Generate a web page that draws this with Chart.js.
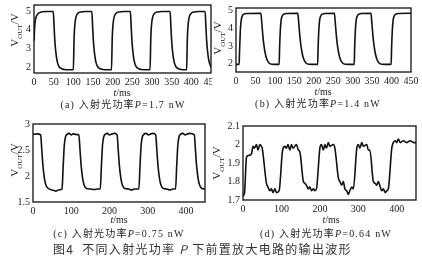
<!DOCTYPE html>
<html>
<head>
<meta charset="utf-8">
<script src="https://cdn.jsdelivr.net/npm/chart.js@4.4.1/dist/chart.umd.min.js"></script>
<style>
body { margin: 0; background: #fff; width: 422px; height: 267px; overflow: hidden; position: relative; font-family: "Liberation Serif", serif; color: #222; }
.box { position: absolute; overflow: hidden; }
.ylab { position: absolute; font-size: 11px; transform: translate(-50%, -50%) rotate(-90deg); white-space: nowrap; }
.ylab sub { font-size: 7px; }
.xlab { position: absolute; font-size: 10px; transform: translate(-50%, -50%); white-space: nowrap; }
.cap { position: absolute; font-size: 10px; letter-spacing: 1.2px; transform: translate(-50%, -50%); white-space: nowrap; font-family: "Liberation Serif", "Noto Sans CJK SC", serif; }
.fig { position: absolute; left: 53px; top: 240px; font-size: 12px; letter-spacing: 1.3px; white-space: nowrap; font-family: "Noto Sans CJK SC", sans-serif; color: #333; }
</style>
</head>
<body>
<div class="box" style="left:0;top:-4px;width:212px;height:91px"><canvas id="ca" width="223" height="91"></canvas></div>
<div class="box" style="left:211px;top:-1px;width:211px;height:87px"><canvas id="cb" width="212" height="87"></canvas></div>
<div class="box" style="left:0;top:115px;width:211px;height:101px"><canvas id="cc" width="217" height="101"></canvas></div>
<div class="box" style="left:211px;top:117px;width:211px;height:97px"><canvas id="cd" width="217" height="97"></canvas></div>

<div class="ylab" style="left:16px;top:30px">V<sub>OUT</sub>/V</div>
<div class="ylab" style="left:219px;top:38px">V<sub>OUT</sub>/V</div>
<div class="ylab" style="left:16px;top:160px">V<sub>OUT</sub>/V</div>
<div class="ylab" style="left:218px;top:163px">V<sub>OUT</sub>/V</div>

<div class="xlab" style="left:122px;top:92px"><i>t</i>/ms</div>
<div class="xlab" style="left:323px;top:91px"><i>t</i>/ms</div>
<div class="xlab" style="left:119px;top:219px"><i>t</i>/ms</div>
<div class="xlab" style="left:331px;top:219px"><i>t</i>/ms</div>

<div class="cap" style="left:123px;top:103px">(a) 入射光功率<i>P</i>=1.7 nW</div>
<div class="cap" style="left:318px;top:102px">(b) 入射光功率<i>P</i>=1.4 nW</div>
<div class="cap" style="left:119px;top:232px">(c) 入射光功率<i>P</i>=0.75 nW</div>
<div class="cap" style="left:326px;top:232px">(d) 入射光功率<i>P</i>=0.64 nW</div>

<div class="fig">图4&nbsp; 不同入射光功率 <i>P</i> 下前置放大电路的输出波形</div>

<script>
var aTime = [0, 2, 5, 10, 18, 30, 49, 51, 53, 56, 59, 63, 69, 77, 90,
    100, 102, 104, 107, 112, 120, 130, 147, 149, 151, 154, 157, 161, 167, 175, 188,
    197, 199, 201, 204, 209, 217, 227, 245, 247, 249, 252, 255, 259, 265, 273, 285,
    295, 297, 299, 302, 307, 315, 325, 346, 348, 350, 353, 356, 360, 366, 374, 382,
    388, 390, 392, 395, 400, 408, 418, 435, 437, 439, 442, 445, 449, 452];
var aVolt = [3.4, 4.25, 4.65, 4.85, 4.94, 4.97, 4.97, 4.2, 3.4, 2.7, 2.3, 2.05, 1.92, 1.87, 1.85,
    1.86, 3.6, 4.3, 4.7, 4.88, 4.95, 4.97, 4.97, 4.2, 3.4, 2.7, 2.3, 2.05, 1.92, 1.87, 1.85,
    1.86, 3.6, 4.3, 4.7, 4.88, 4.95, 4.97, 4.97, 4.2, 3.4, 2.7, 2.3, 2.05, 1.92, 1.87, 1.85,
    1.86, 3.6, 4.3, 4.7, 4.88, 4.95, 4.97, 4.97, 4.2, 3.4, 2.7, 2.3, 2.05, 1.92, 1.87, 1.85,
    1.86, 3.6, 4.3, 4.7, 4.88, 4.95, 4.97, 4.97, 4.2, 3.4, 2.7, 2.3, 2.05, 1.95];

var bTime = [0, 8, 9, 11, 13, 16, 20, 28, 64, 66, 69, 72, 76, 80, 85, 92,
    111, 112, 114, 116, 119, 123, 130, 159, 161, 164, 167, 171, 175, 180, 187,
    210, 211, 213, 215, 218, 222, 229, 253, 255, 258, 261, 265, 269, 274, 281,
    304, 305, 307, 309, 312, 316, 323, 347, 349, 352, 355, 359, 363, 368, 375,
    399, 400, 402, 404, 407, 411, 418, 450];
var bVolt = [1.95, 1.95, 2.6, 3.8, 4.4, 4.7, 4.8, 4.84, 4.85, 4.4, 3.6, 3.0, 2.5, 2.2, 2.03, 1.96,
    1.95, 2.8, 3.9, 4.45, 4.7, 4.8, 4.84, 4.85, 4.4, 3.6, 3.0, 2.5, 2.2, 2.03, 1.96,
    1.95, 2.8, 3.9, 4.45, 4.7, 4.8, 4.84, 4.85, 4.4, 3.6, 3.0, 2.5, 2.2, 2.03, 1.96,
    1.95, 2.8, 3.9, 4.45, 4.7, 4.8, 4.84, 4.85, 4.4, 3.6, 3.0, 2.5, 2.2, 2.03, 1.96,
    1.95, 2.8, 3.9, 4.45, 4.7, 4.8, 4.84, 4.85];

var cTime = [0, 10, 20, 23, 26, 30, 34, 40, 50, 60, 66,
    76, 79, 82, 85, 89, 95, 100, 105, 112, 120, 123, 126, 130, 134, 140, 150, 160, 170,
    176, 179, 182, 185, 189, 195, 200, 207, 213, 220, 223, 226, 230, 234, 240, 250, 258, 265,
    277, 280, 283, 286, 290, 296, 302, 308, 314, 321, 324, 327, 331, 335, 341, 350, 358, 366,
    373, 376, 379, 382, 386, 392, 398, 404, 410, 422, 425, 428, 432, 436, 442, 450];
var cVolt = [2.8, 2.81, 2.79, 2.5, 2.2, 1.95, 1.82, 1.76, 1.73, 1.71, 1.73,
    1.75, 2.2, 2.6, 2.75, 2.8, 2.82, 2.79, 2.81, 2.8, 2.79, 2.5, 2.2, 1.95, 1.82, 1.76, 1.75, 1.74, 1.75,
    1.75, 2.2, 2.6, 2.75, 2.8, 2.82, 2.79, 2.81, 2.82, 2.79, 2.5, 2.2, 1.95, 1.82, 1.76, 1.75, 1.73, 1.75,
    1.75, 2.2, 2.6, 2.75, 2.8, 2.82, 2.79, 2.81, 2.82, 2.79, 2.5, 2.2, 1.95, 1.82, 1.76, 1.75, 1.73, 1.75,
    1.75, 2.2, 2.6, 2.75, 2.8, 2.82, 2.79, 2.81, 2.82, 2.79, 2.5, 2.2, 1.95, 1.82, 1.76, 1.75];

var dTime = [0, 4, 9, 13, 22, 26, 30, 35, 39, 44, 48, 50, 61, 65, 70, 74, 78, 83, 87, 94,
    103, 109, 113, 117, 122, 126, 130, 139, 144, 148, 157, 161, 165, 170, 174, 178, 183, 187, 191,
    200, 204, 209, 213, 217, 222, 226, 235, 239, 248, 252, 257, 261, 265, 270, 274, 278, 283, 287,
    296, 300, 304, 309, 313, 322, 326, 330, 339, 344, 348, 352, 357, 361, 365, 370, 374, 378,
    387, 391, 396, 400, 404, 409, 417, 426, 435, 444, 450];
var dVolt = [1.72, 1.74, 1.93, 1.94, 1.95, 1.99, 1.98, 2.0, 1.97, 2.0, 1.99, 1.98, 1.79, 1.77, 1.75, 1.76, 1.74, 1.76, 1.74, 1.75,
    1.97, 1.99, 1.98, 2.0, 1.97, 2.0, 1.98, 2.0, 1.97, 1.96, 1.8, 1.79, 1.78, 1.76, 1.77, 1.75, 1.76, 1.75, 1.76,
    1.98, 2.0, 1.97, 2.0, 1.98, 2.01, 1.99, 2.0, 1.98, 1.82, 1.8, 1.78, 1.8, 1.76, 1.75, 1.73, 1.75, 1.77, 1.76,
    1.98, 2.0, 1.98, 2.01, 1.99, 2.0, 1.97, 1.97, 1.8, 1.79, 1.78, 1.8, 1.77, 1.75, 1.76, 1.74, 1.75, 1.76,
    1.98, 2.01, 2.02, 2.01, 2.03, 2.01, 2.02, 2.01, 2.02, 2.01, 2.01];

var frame = {
    id: "frame",
    afterDraw: function (chart) {
        var a = chart.chartArea
        var ctx = chart.ctx
        ctx.save()
        ctx.strokeStyle = "#111"
        ctx.lineWidth = 1.3
        ctx.strokeRect(a.left, a.top, a.right - a.left, a.bottom - a.top)
        ctx.restore()
    }
}

function makePanel(id, times, volts, yMin, yMax, yStep, yWidth, xStep) {
    var pts = []
    for (var i = 0; i < times.length; i++) {
        pts.push({ x: times[i], y: volts[i] })
    }
    var font = { family: "Liberation Serif", size: 10 }
    new Chart(document.getElementById(id), {
        type: "line",
        data: {
            datasets: [{
                data: pts,
                borderColor: "#111",
                borderWidth: 1.6,
                pointRadius: 0,
                cubicInterpolationMode: "monotone",
                fill: false,
            }],
        },
        options: {
            responsive: false,
            animation: false,
            layout: { padding: { top: 8, right: 12, left: 0, bottom: 0 } },
            plugins: { legend: { display: false }, tooltip: { enabled: false } },
            scales: {
                x: {
                    type: "linear",
                    min: 0,
                    max: 450,
                    grid: { display: false, drawTicks: false },
                    border: { display: false },
                    ticks: { stepSize: xStep, includeBounds: false, autoSkip: false, maxRotation: 0, color: "#222", font: font, padding: 3 },
                    afterFit: function (s) { s.height = 14 },
                },
                y: {
                    min: yMin,
                    max: yMax,
                    grid: { display: false, drawTicks: false },
                    border: { display: false },
                    ticks: {
                        stepSize: yStep, includeBounds: false, color: "#222", font: font, padding: 3,
                        callback: function (v) { return String(Math.round(v * 10) / 10) },
                    },
                    afterFit: function (s) { s.width = yWidth },
                },
            },
        },
        plugins: [frame],
    })
}

makePanel("ca", aTime, aVolt, 1.68, 5.32, 1, 34, 50)
makePanel("cb", bTime, bVolt, 1.52, 5.15, 1, 25, 50)
makePanel("cc", cTime, cVolt, 1.5, 3.0, 0.5, 33, 100)
makePanel("cd", dTime, dVolt, 1.7, 2.1, 0.1, 32, 100)
</script>
</body>
</html>
